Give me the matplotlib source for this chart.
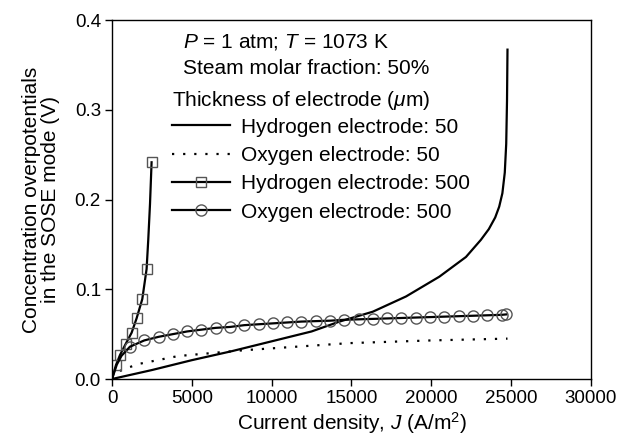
import matplotlib
matplotlib.use("Agg")
import matplotlib.pyplot as plt

plt.rcParams['font.family'] = ['Liberation Sans', 'DejaVu Sans']
plt.rcParams['mathtext.fontset'] = 'custom'
plt.rcParams['mathtext.rm'] = 'Liberation Sans'
plt.rcParams['mathtext.it'] = 'Liberation Sans:italic'

# Hydrogen electrode, 50 um (solid line)
h50_j = [0, 2500, 5000, 7500, 10000, 12500, 14250, 16333, 18417, 20500,
         22170, 23100, 23600, 24000, 24250, 24450, 24600, 24690, 24740, 24770]
h50_v = [0, 0.010, 0.021, 0.031, 0.042, 0.053, 0.064, 0.075, 0.092, 0.114,
         0.136, 0.155, 0.167, 0.180, 0.192, 0.207, 0.230, 0.262, 0.310, 0.367]

# Oxygen electrode, 50 um (dotted line)
o50_j = [0, 500, 917, 1646, 4146, 8200, 14875, 20000, 24770]
o50_v = [0, 0.009, 0.012, 0.0167, 0.0256, 0.032, 0.040, 0.043, 0.045]

# Hydrogen electrode, 500 um (squares)
h500_j = [0, 250, 500, 854, 1229, 1540, 1896, 2167, 2270, 2380, 2479]
h500_v = [0, 0.0156, 0.0267, 0.039, 0.0516, 0.0676, 0.089, 0.1226, 0.155, 0.195, 0.2415]
h500_marks = [1, 2, 3, 4, 5, 6, 7, 10]

# Oxygen electrode, 500 um (circles)
o500_j = [0, 300, 600, 1125, 2020, 2915, 3810, 4705, 5600, 6495, 7390, 8285,
          9180, 10075, 10970, 11865, 12760, 13655, 14550, 15445, 16340, 17235,
          18130, 19025, 19920, 20815, 21710, 22605, 23500, 24395, 24700]
o500_v = [0, 0.016, 0.026, 0.036, 0.043, 0.047, 0.050, 0.053, 0.055, 0.057,
          0.058, 0.060, 0.061, 0.062, 0.063, 0.064, 0.0645, 0.065, 0.066,
          0.0665, 0.067, 0.0675, 0.068, 0.0685, 0.069, 0.0695, 0.070, 0.0705,
          0.071, 0.0715, 0.072]
o500_marks = list(range(3, len(o500_j)))

x_ticks = [0, 5000, 10000, 15000, 20000, 25000, 30000]
y_ticks = [0.0, 0.1, 0.2, 0.3, 0.4]

fig = plt.figure(figsize=(6.31, 4.40), dpi=100)
ax = fig.add_axes([0.1775, 0.1386, 0.7591, 0.8159])

ax.plot(h50_j, h50_v, color='black', lw=1.6, label='Hydrogen electrode: 50')
ax.plot(o50_j, o50_v, color='black', lw=1.6, ls=(0, (1, 4)),
        label='Oxygen electrode: 50')
ax.plot(h500_j, h500_v, color='black', lw=1.6, marker='s', ms=7,
        mfc='none', mec='#555555', mew=1.0, markevery=h500_marks,
        label='Hydrogen electrode: 500')
ax.plot(o500_j, o500_v, color='black', lw=1.6, marker='o', ms=8,
        mfc='none', mec='#555555', mew=1.0, markevery=o500_marks,
        label='Oxygen electrode: 500')

ax.set_xlim(0, 30000)
ax.set_ylim(0, 0.4)
ax.set_xticks(x_ticks)
ax.set_yticks(y_ticks)
ax.set_yticklabels(['%.1f' % v for v in y_ticks])
ax.tick_params(direction='out', length=5, width=1, labelsize=13.5, pad=3,
               top=False, right=False, colors='black')
for s in ax.spines.values():
    s.set_linewidth(1.0)

ax.set_xlabel('Current density, $J$ (A/m$^2$)', fontsize=15, labelpad=2)
ax.set_ylabel('Concentration overpotentials\nin the SOSE mode (V)', fontsize=15,
              linespacing=1.05)
ax.yaxis.set_label_coords(-0.108, 0.5)

ax.text(0.1477, 0.939, '$P$ = 1 atm; $T$ = 1073 K', transform=ax.transAxes,
        fontsize=15, va='center')
ax.text(0.1477, 0.866, 'Steam molar fraction: 50%', transform=ax.transAxes,
        fontsize=15, va='center')

leg = ax.legend(loc='upper left', bbox_to_anchor=(0.126, 0.808), frameon=False,
                fontsize=15, handlelength=2.75, handletextpad=0.55,
                labelspacing=0.45, numpoints=1, borderpad=0, borderaxespad=0,
                title='Thickness of electrode ($\\mu$m)', title_fontsize=15)
leg._legend_box.align = 'left'
leg._legend_box.sep = 4

fig.savefig('out.png', dpi=100)
